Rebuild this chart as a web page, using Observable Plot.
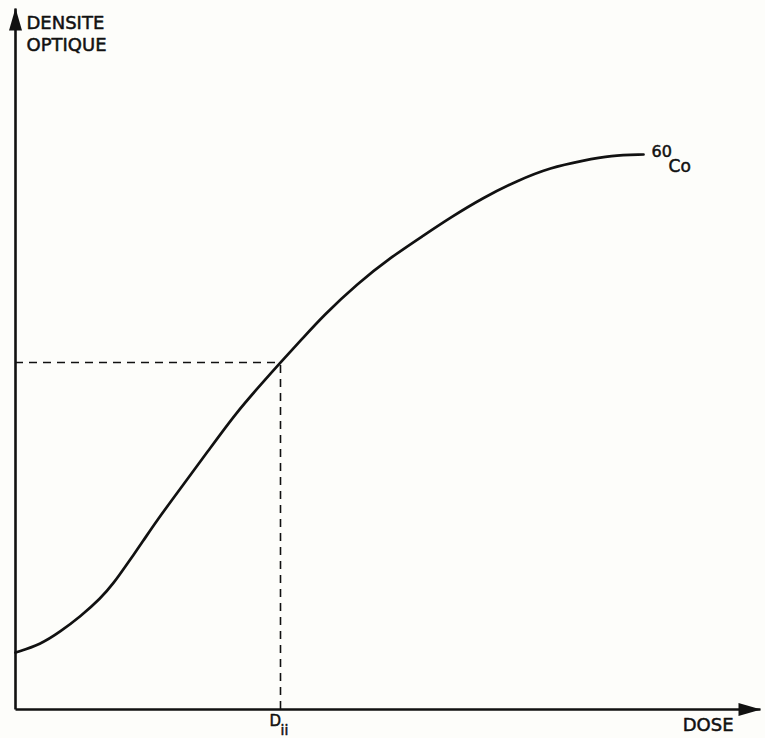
<!DOCTYPE html>
<html>
<head>
<meta charset="utf-8">
<script src="https://cdn.jsdelivr.net/npm/d3@7"></script>
<script src="https://cdn.jsdelivr.net/npm/@observablehq/plot@0.6"></script>
<style>
  html, body { margin: 0; padding: 0; background: #fdfdfa; }
  #chart svg { display: block; }
</style>
</head>
<body>
<div id="chart"></div>
<script>
// Dose (arbitrary units, 0–100) and optical density (arbitrary units, 0–100)
const dose    = [0, 3.36, 6.04, 8.72, 11.41, 13.15, 15.03, 17.18, 18.79, 21.74, 25.91, 29.53, 33.29, 35.57, 38.52, 41.34, 45.91, 50.34, 54.77, 58.39, 62.82, 67.38, 71.81, 76.24, 79.87, 84.30];
const density = [8.13, 9.27, 11.13, 13.27, 15.83, 17.97, 20.83, 24.11, 26.68, 30.96, 36.95, 42.23, 46.79, 49.5, 52.92, 56.21, 60.77, 64.48, 67.62, 70.19, 73.04, 75.46, 77.32, 78.32, 79.03, 79.17];
const Dii = 35.57;
const DiiDensity = 49.5;
const axisMax = 100;
const yLabelLines = ["DENSITE", "OPTIQUE"];
const xLabel = "DOSE";
const curveLabel = {sup: "60", main: "Co"};
const markLabel = {main: "D", sub: "ii"};

const curve = dose.map((d, i) => ({dose: d, density: density[i]}));
const axes = [
  {x1: 0, y1: 0, x2: 0, y2: axisMax},
  {x1: 0, y1: 0, x2: axisMax, y2: 0}
];

function arrowMarker(color, context) {
  const ns = "http://www.w3.org/2000/svg";
  const doc = context.document;
  const m = doc.createElementNS(ns, "marker");
  m.setAttribute("viewBox", "-23 -7 24 14");
  m.setAttribute("markerWidth", "24");
  m.setAttribute("markerHeight", "14");
  m.setAttribute("markerUnits", "userSpaceOnUse");
  m.setAttribute("refX", "0");
  m.setAttribute("refY", "0");
  m.setAttribute("orient", "auto");
  const p = doc.createElementNS(ns, "path");
  p.setAttribute("d", "M-22,-6.5L0.5,0L-22,6.5Z");
  p.setAttribute("fill", color);
  p.setAttribute("stroke", "none");
  m.appendChild(p);
  return m;
}

const font = "'DejaVu Sans', 'Liberation Sans', sans-serif";
const last = curve[curve.length - 1];
const ink = "#111";
const txt = {fill: ink, stroke: ink, strokeWidth: 0.5, textAnchor: "start"};

const plot = Plot.plot({
  width: 765,
  height: 738,
  marginLeft: 15,
  marginRight: 5,
  marginTop: 8,
  marginBottom: 29,
  style: {background: "#fdfdfa", fontFamily: font},
  x: {domain: [0, axisMax], axis: null},
  y: {domain: [0, axisMax], axis: null},
  marks: [
    Plot.link(axes, {x1: "x1", y1: "y1", x2: "x2", y2: "y2", stroke: ink, strokeWidth: 2.6, markerEnd: arrowMarker}),
    Plot.ruleY([DiiDensity], {x1: 0, x2: Dii, stroke: ink, strokeWidth: 1.6, strokeDasharray: "8,6"}),
    Plot.ruleX([Dii], {y1: 0, y2: DiiDensity, stroke: ink, strokeWidth: 1.6, strokeDasharray: "8,6"}),
    Plot.line(curve, {x: "dose", y: "density", curve: "basis", stroke: ink, strokeWidth: 2.7}),
    // y axis label
    Plot.text([yLabelLines[0]], {...txt, x: 0, y: axisMax, text: d => d, dx: 11, dy: 15, fontSize: 18}),
    Plot.text([yLabelLines[1]], {...txt, x: 0, y: axisMax, text: d => d, dx: 11, dy: 37, fontSize: 18}),
    // x axis label
    Plot.text([xLabel], {...txt, textAnchor: "end", x: axisMax, y: 0, text: d => d, dx: -27, dy: 16, fontSize: 18}),
    // curve label
    Plot.text([curveLabel.sup], {...txt, x: last.dose, y: last.density, text: d => d, dx: 8, dy: -3, fontSize: 16}),
    Plot.text([curveLabel.main], {...txt, x: last.dose, y: last.density, text: d => d, dx: 25, dy: 12, fontSize: 17}),
    // D_ii label
    Plot.text([markLabel.main], {...txt, x: Dii, y: 0, text: d => d, dx: -11, dy: 12, fontSize: 15}),
    Plot.text([markLabel.sub], {...txt, x: Dii, y: 0, text: d => d, dx: 0, dy: 21, fontSize: 14})
  ]
});
document.getElementById("chart").appendChild(plot);
</script>
</body>
</html>
